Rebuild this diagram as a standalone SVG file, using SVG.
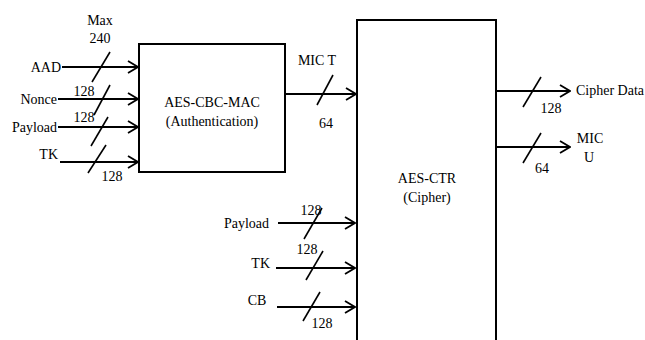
<svg xmlns="http://www.w3.org/2000/svg" width="645" height="340" viewBox="0 0 645 340" font-family="'Liberation Serif', 'DejaVu Serif', serif">
<defs>
<marker id="arr" viewBox="0 0 12 14" refX="11" refY="7" markerWidth="12" markerHeight="14" markerUnits="userSpaceOnUse" orient="auto">
<path d="M1,1 L11,7 L1,13" fill="none" stroke="#000" stroke-width="1.8"/>
</marker>
<style>
text{font-family:'Liberation Serif','DejaVu Serif',serif;font-size:14px;fill:#000}
.box{fill:#fff;stroke:#000;stroke-width:2}
.ln{stroke:#000;stroke-width:2;fill:none}
.w{stroke:#000;stroke-width:1.6;fill:none}
.m{text-anchor:middle}
.e{text-anchor:end}
</style>
</defs>
<rect width="645" height="340" fill="#fff"/>
<g id="cbcmac">
<rect class="box" x="139" y="44" width="146" height="128"/>
<text class="m" x="212" y="107">AES-CBC-MAC</text>
<text class="m" x="212" y="126">(Authentication)</text>
</g>
<g id="ctr">
<path class="box" d="M357,345 V20 H496 V345"/>
<text class="m" x="427" y="183">AES-CTR</text>
<text class="m" x="427" y="202">(Cipher)</text>
</g>
<g id="connectors">
<line class="ln" x1="62" y1="67" x2="138" y2="67" marker-end="url(#arr)"/>
<line class="w" x1="92" y1="82" x2="110" y2="52"/>
<line class="ln" x1="58" y1="99" x2="138" y2="99" marker-end="url(#arr)"/>
<line class="w" x1="94" y1="115" x2="110" y2="85"/>
<line class="ln" x1="58" y1="127" x2="138" y2="127" marker-end="url(#arr)"/>
<line class="w" x1="91" y1="146" x2="108" y2="117"/>
<line class="ln" x1="60" y1="162" x2="138" y2="162" marker-end="url(#arr)"/>
<line class="w" x1="88" y1="173" x2="106" y2="145"/>
<line class="ln" x1="285" y1="94" x2="356" y2="94" marker-end="url(#arr)"/>
<line class="w" x1="317" y1="105" x2="333" y2="75"/>
<line class="ln" x1="496" y1="91" x2="570" y2="91" marker-end="url(#arr)"/>
<line class="w" x1="523" y1="107" x2="541" y2="77"/>
<line class="ln" x1="496" y1="147" x2="570" y2="147" marker-end="url(#arr)"/>
<line class="w" x1="523" y1="163" x2="541" y2="133"/>
<line class="ln" x1="278" y1="223" x2="355" y2="223" marker-end="url(#arr)"/>
<line class="w" x1="304" y1="239" x2="322" y2="208"/>
<line class="ln" x1="276" y1="268" x2="355" y2="268" marker-end="url(#arr)"/>
<line class="w" x1="306" y1="280" x2="323" y2="251"/>
<line class="ln" x1="277" y1="307" x2="355" y2="307" marker-end="url(#arr)"/>
<line class="w" x1="303" y1="321" x2="320" y2="292"/>
</g>
<g id="labels">
<text class="m" x="100" y="25">Max</text>
<text class="m" x="100" y="43">240</text>
<text class="e" x="61" y="72">AAD</text>
<text class="m" x="84" y="96">128</text>
<text class="e" x="57" y="104">Nonce</text>
<text class="m" x="84" y="122">128</text>
<text class="e" x="57" y="132">Payload</text>
<text class="e" x="58" y="159">TK</text>
<text class="m" x="112" y="181">128</text>
<text class="m" x="317" y="65">MIC T</text>
<text class="m" x="326" y="128">64</text>
<text x="576" y="95">Cipher Data</text>
<text class="m" x="551" y="113">128</text>
<text class="m" x="590" y="143">MIC</text>
<text class="m" x="589" y="162">U</text>
<text class="m" x="542" y="173">64</text>
<text class="e" x="269" y="228">Payload</text>
<text class="m" x="311" y="215">128</text>
<text class="e" x="270" y="268">TK</text>
<text class="m" x="307" y="254">128</text>
<text class="m" x="257" y="305">CB</text>
<text class="m" x="322" y="328">128</text>
</g>
</svg>
